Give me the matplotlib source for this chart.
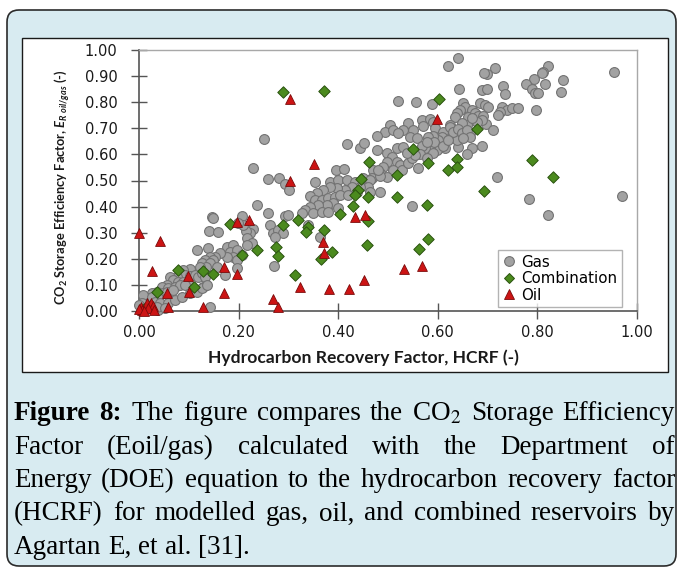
import matplotlib
matplotlib.use("Agg")
import matplotlib.pyplot as plt
from matplotlib.patches import FancyBboxPatch, Rectangle
from matplotlib.lines import Line2D

W, H = 683, 569

# ---- data (HCRF, storage efficiency) ----
gas_hcrf = [
    0.641, 0.621, 0.715, 0.699, 0.693, 0.821, 0.811, 0.809, 0.954, 0.851,
    0.793, 0.777, 0.815, 0.789, 0.795, 0.801, 0.847, 0.731, 0.735, 0.643,
    0.689, 0.699, 0.685, 0.695, 0.701, 0.651, 0.655, 0.645, 0.639, 0.635,
    0.669, 0.679, 0.671, 0.661, 0.659, 0.729, 0.739, 0.749, 0.761, 0.725,
    0.721, 0.797, 0.697, 0.711, 0.689, 0.669, 0.659, 0.641, 0.625, 0.629,
    0.614, 0.625, 0.645, 0.651, 0.639, 0.649, 0.665, 0.608, 0.614,
    0.520, 0.556, 0.588, 0.675, 0.681, 0.691, 0.689, 0.679, 0.669,
    0.568, 0.584, 0.590, 0.540, 0.504, 0.494, 0.510, 0.530, 0.550, 0.520, 0.544,
    0.558, 0.594, 0.610, 0.625, 0.631, 0.641, 0.649, 0.659, 0.665, 0.651,
    0.608, 0.600, 0.590, 0.580, 0.584, 0.594, 0.604, 0.598, 0.584, 0.574,
    0.568, 0.590, 0.564, 0.578,
    0.498, 0.508, 0.498, 0.518, 0.524, 0.490, 0.510, 0.528, 0.540, 0.548,
    0.554, 0.560, 0.484, 0.498, 0.518, 0.530, 0.538, 0.570, 0.592, 0.578,
    0.610, 0.620,
    0.478, 0.478, 0.458, 0.470, 0.468, 0.484, 0.251, 0.229, 0.418, 0.444,
    0.452, 0.480, 0.259, 0.281, 0.396, 0.412,
    0.353, 0.384, 0.400, 0.418, 0.434, 0.450, 0.464, 0.460, 0.444, 0.428,
    0.414, 0.398, 0.384, 0.370, 0.357, 0.343, 0.353, 0.367, 0.380, 0.394,
    0.404, 0.420, 0.438, 0.464, 0.484, 0.390, 0.378, 0.360, 0.343, 0.333,
    0.349, 0.327, 0.367, 0.380, 0.400, 0.548, 0.363,
    0.719, 0.783, 0.821, 0.970,
    0.293, 0.301, 0.237, 0.259, 0.293, 0.299, 0.263, 0.269, 0.279, 0.289,
    0.273, 0.271, 0.339,
    0.147, 0.149, 0.207, 0.229, 0.223, 0.215, 0.209, 0.199, 0.217, 0.227,
    0.217, 0.141, 0.159, 0.116, 0.139,
    0.177, 0.189, 0.183, 0.197, 0.207, 0.189, 0.177, 0.197, 0.163, 0.153,
    0.143, 0.133, 0.127, 0.149, 0.143, 0.157, 0.135, 0.122,
    0.102, 0.088, 0.082, 0.092, 0.102, 0.112, 0.118, 0.127, 0.133, 0.076,
    0.062, 0.068, 0.078, 0.088, 0.098, 0.056, 0.046, 0.058, 0.072, 0.082,
    0.036, 0.048, 0.026, 0.018, 0.028, 0.016, 0.008, 0.022, 0.038,
    0.143, 0.173, 0.197, 0.128,
    0.038, 0.056, 0.068, 0.092, 0.008, 0.026, 0.032, 0.042, 0.058,
    0.072, 0.086, 0.102, 0.116, 0.127, 0.137, 0.036, 0.052, 0.006, 0.000,
]
gas_eff = [
    0.969, 0.939, 0.931, 0.908, 0.912, 0.939, 0.916, 0.912, 0.916, 0.885,
    0.889, 0.870, 0.870, 0.851, 0.835, 0.835, 0.839, 0.862, 0.831, 0.851,
    0.847, 0.851, 0.797, 0.789, 0.782, 0.797, 0.782, 0.770, 0.759, 0.743,
    0.770, 0.751, 0.732, 0.743, 0.713, 0.782, 0.770, 0.778, 0.778, 0.762,
    0.751, 0.770, 0.716, 0.693, 0.632, 0.625, 0.602, 0.628, 0.713, 0.686,
    0.674, 0.663, 0.686, 0.667, 0.655, 0.720, 0.682, 0.644, 0.625,
    0.805, 0.801, 0.793, 0.759, 0.747, 0.747, 0.732, 0.724, 0.739,
    0.732, 0.736, 0.724, 0.720, 0.713, 0.686, 0.693, 0.693, 0.693, 0.682, 0.667,
    0.663, 0.701, 0.686, 0.705, 0.686, 0.697, 0.682, 0.693, 0.667, 0.663,
    0.667, 0.655, 0.670, 0.667, 0.644, 0.636, 0.628, 0.617, 0.621, 0.625,
    0.632, 0.605, 0.602, 0.586,
    0.605, 0.590, 0.571, 0.571, 0.559, 0.552, 0.540, 0.540, 0.567, 0.586,
    0.598, 0.548, 0.529, 0.513, 0.625, 0.628, 0.605, 0.709, 0.648, 0.648,
    0.632, 0.655,
    0.670, 0.617, 0.502, 0.540, 0.510, 0.517, 0.659, 0.548, 0.640, 0.625,
    0.644, 0.540, 0.506, 0.510, 0.540, 0.544,
    0.494, 0.494, 0.502, 0.502, 0.494, 0.510, 0.502, 0.475, 0.475, 0.475,
    0.464, 0.471, 0.475, 0.464, 0.452, 0.441, 0.425, 0.425, 0.433, 0.437,
    0.444, 0.444, 0.456, 0.456, 0.456, 0.414, 0.406, 0.406, 0.398, 0.387,
    0.375, 0.375, 0.379, 0.379, 0.395, 0.402, 0.284,
    0.513, 0.429, 0.368, 0.441,
    0.487, 0.464, 0.406, 0.375, 0.364, 0.368, 0.330, 0.299, 0.310, 0.299,
    0.284, 0.172, 0.330,
    0.360, 0.356, 0.364, 0.314, 0.299, 0.307, 0.330, 0.337, 0.280, 0.261,
    0.253, 0.307, 0.303, 0.234, 0.241,
    0.245, 0.253, 0.226, 0.234, 0.215, 0.207, 0.207, 0.195, 0.222, 0.207,
    0.207, 0.195, 0.184, 0.195, 0.184, 0.169, 0.169, 0.169,
    0.161, 0.157, 0.146, 0.138, 0.134, 0.138, 0.130, 0.146, 0.130, 0.130,
    0.130, 0.119, 0.111, 0.111, 0.107, 0.100, 0.092, 0.088, 0.092, 0.100,
    0.073, 0.069, 0.069, 0.050, 0.042, 0.031, 0.015, 0.031, 0.004,
    0.015, 0.138, 0.165, 0.092,
    0.050, 0.073, 0.080, 0.100, 0.061, 0.054, 0.034, 0.031, 0.031,
    0.042, 0.054, 0.069, 0.073, 0.088, 0.100, 0.015, 0.011, 0.031, 0.023,
]

comb_hcrf = [
    0.289, 0.371, 0.602, 0.679, 0.550, 0.580, 0.638, 0.638, 0.620, 0.462,
    0.446, 0.518, 0.789, 0.831, 0.693, 0.518, 0.578, 0.580, 0.562, 0.440,
    0.434, 0.460, 0.430, 0.404, 0.460, 0.458, 0.388, 0.365, 0.371, 0.339,
    0.335, 0.319, 0.289, 0.275, 0.279, 0.313, 0.237, 0.207, 0.183, 0.128,
    0.149, 0.110, 0.078, 0.036, 0.010, 0.020,
]
comb_eff = [
    0.839, 0.843, 0.812, 0.697, 0.621, 0.567, 0.582, 0.552, 0.540, 0.571,
    0.506, 0.521, 0.579, 0.514, 0.460, 0.437, 0.406, 0.276, 0.238, 0.464,
    0.444, 0.437, 0.402, 0.372, 0.345, 0.253, 0.226, 0.198, 0.310, 0.322,
    0.303, 0.349, 0.330, 0.245, 0.211, 0.138, 0.234, 0.215, 0.333, 0.153,
    0.142, 0.092, 0.157, 0.073, 0.008, 0.015,
]

oil_hcrf = [
    0.000, 0.042, 0.026, 0.056, 0.098, 0.100, 0.058, 0.128, 0.171, 0.196,
    0.171, 0.196, 0.221, 0.303, 0.269, 0.279, 0.323, 0.369, 0.371, 0.381,
    0.422, 0.434, 0.454, 0.452, 0.303, 0.351, 0.598, 0.532, 0.568,
    0.004, 0.016, 0.024, 0.028, 0.006, 0.018, 0.000, 0.010, 0.030,
]
oil_eff = [
    0.300, 0.268, 0.153, 0.069, 0.134, 0.073, 0.015, 0.015, 0.169, 0.142,
    0.069, 0.341, 0.349, 0.498, 0.046, 0.015, 0.092, 0.264, 0.222, 0.084,
    0.084, 0.360, 0.368, 0.119, 0.812, 0.563, 0.736, 0.161, 0.172,
    0.015, 0.030, 0.030, 0.019, 0.004, 0.011, 0.008, 0.000, 0.005,
]

x_ticks = [0.0, 0.2, 0.4, 0.6, 0.8, 1.0]
y_ticks = [0.0, 0.1, 0.2, 0.3, 0.4, 0.5, 0.6, 0.7, 0.8, 0.9, 1.0]

caption_lines = [
    [("Figure", "bold"), ("8:", "bold"), ("The", "normal"), ("figure", "normal"),
     ("compares", "normal"), ("the", "normal"), ("CO$_2$", "normal"),
     ("Storage", "normal"), ("Efficiency", "normal")],
    [(w, "normal") for w in "Factor (Eoil/gas) calculated with the Department of".split()],
    [(w, "normal") for w in "Energy (DOE) equation to the hydrocarbon recovery factor".split()],
    [(w, "normal") for w in "(HCRF) for modelled gas, oil, and combined reservoirs by".split()],
    [(w, "normal") for w in "Agartan E, et al. [31].".split()],
]

# ---- styling ----
plt.rcParams["font.family"] = "DejaVu Sans"
plt.rcParams["mathtext.fontset"] = "custom"
plt.rcParams["mathtext.rm"] = "Lato:bold"
plt.rcParams["mathtext.bf"] = "Lato:bold"
plt.rcParams["mathtext.it"] = "Lato:bold:italic"

PANEL_BLUE = "#d8ebf1"
GAS_FACE, GAS_EDGE = "#a2a2a2", "#727272"
COMB_FACE, COMB_EDGE = "#4b8a1e", "#2a5210"
OIL_FACE, OIL_EDGE = "#cc1414", "#7a0a0a"

fig = plt.figure(figsize=(W / 100, H / 100), dpi=100)
fig.patch.set_facecolor("white")

# background axes in pixel units (y down)
bg = fig.add_axes([0, 0, 1, 1], zorder=0)
bg.set_xlim(0, W)
bg.set_ylim(H, 0)
bg.axis("off")
bg.add_patch(FancyBboxPatch((7, 10), 669, 556, boxstyle="round,pad=0,rounding_size=12",
                            facecolor=PANEL_BLUE, edgecolor="#2b2b2b", linewidth=1.2))
bg.add_patch(Rectangle((22, 38), 646, 334, facecolor="white", edgecolor="#1a1a1a",
                       linewidth=1.0))

# main scatter axes
ax = fig.add_axes([139 / W, 1 - 311 / H, 498 / W, 261 / H], zorder=2)
ax.scatter(gas_hcrf, gas_eff, s=50, marker="o", facecolor=GAS_FACE, edgecolor=GAS_EDGE,
           linewidth=0.8, zorder=3, clip_on=False)
ax.scatter(comb_hcrf, comb_eff, s=34, marker="D", facecolor=COMB_FACE, edgecolor=COMB_EDGE,
           linewidth=0.7, zorder=4, clip_on=False)
ax.scatter(oil_hcrf, oil_eff, s=50, marker="^", facecolor=OIL_FACE, edgecolor=OIL_EDGE,
           linewidth=0.6, zorder=5, clip_on=False)

ax.set_xlim(0, 1)
ax.set_ylim(0, 1)
ax.set_xticks(x_ticks)
ax.set_yticks(y_ticks)
ax.set_xticklabels([f"{v:.2f}" for v in x_ticks])
ax.set_yticklabels([f"{v:.2f}" for v in y_ticks])
ax.tick_params(direction="inout", length=12, width=1.0, color="#555555",
               labelsize=10.5, labelcolor="#1a1a1a")
ax.tick_params(axis="y", pad=9.5)
ax.tick_params(axis="x", pad=4)
for side in ("left", "bottom"):
    ax.spines[side].set_color("#555555")
    ax.spines[side].set_linewidth(1.2)
for side in ("top", "right"):
    ax.spines[side].set_color("#a8a8a8")
    ax.spines[side].set_linewidth(1.0)

ax.set_xlabel("Hydrocarbon Recovery Factor, HCRF (-)", fontfamily="Lato",
              fontweight="bold", fontsize=12.6, labelpad=7, color="#1a1a1a")
ax.xaxis.label.set_x((363 - 139) / 498)
ax.set_ylabel(r"CO$_2$ Storage Efficiency Factor, $E_{R\ oil/gas}$ (-)", fontfamily="Lato",
              fontweight="bold", fontsize=9.3, labelpad=9, color="#1a1a1a")
ax.yaxis.label.set_y((311 - 187) / 261)

handles = [
    Line2D([], [], ls="none", marker="o", ms=7, mfc=GAS_FACE, mec=GAS_EDGE, mew=0.8),
    Line2D([], [], ls="none", marker="D", ms=5.5, mfc=COMB_FACE, mec=COMB_EDGE, mew=0.7),
    Line2D([], [], ls="none", marker="^", ms=7, mfc=OIL_FACE, mec=OIL_EDGE, mew=0.6),
]
leg = ax.legend(handles, ["Gas", "Combination", "Oil"], loc="lower right",
                bbox_to_anchor=(0.97, 0.015), borderaxespad=0, fontsize=10.8,
                frameon=True, fancybox=False, edgecolor="#a0a0a0", handlelength=0.9,
                handletextpad=0.35, labelspacing=0.1, borderpad=0.3)
leg.get_frame().set_linewidth(1.0)
leg.set_zorder(6)

# ---- justified caption (pixel coordinates) ----
renderer = fig.canvas.get_renderer()
CAP_SIZE = 19.5
cap_kw = dict(fontfamily="Liberation Serif", fontsize=CAP_SIZE, color="black",
              va="baseline", ha="left", math_fontfamily="stix")


def text_width(s, weight="normal"):
    t = bg.text(0, 0, s, fontweight=weight, **cap_kw)
    w = t.get_window_extent(renderer).width
    t.remove()
    return w


space_w = text_width("x x") - text_width("xx")
cap_left, cap_right = 14, 675
baselines = [420, 453.5, 487, 520.5, 554]
for i, (tokens, base) in enumerate(zip(caption_lines, baselines)):
    widths = [text_width(w, wt) for w, wt in tokens]
    last = i == len(caption_lines) - 1
    if last or len(tokens) < 2:
        gap = space_w
    else:
        gap = (cap_right - cap_left - sum(widths)) / (len(tokens) - 1)
        gap = max(gap, space_w * 0.6)
    x = cap_left
    for (w, wt), wd in zip(tokens, widths):
        bg.text(x, base, w, fontweight=wt, **cap_kw)
        x += wd + gap

fig.savefig("out.png", dpi=100)
